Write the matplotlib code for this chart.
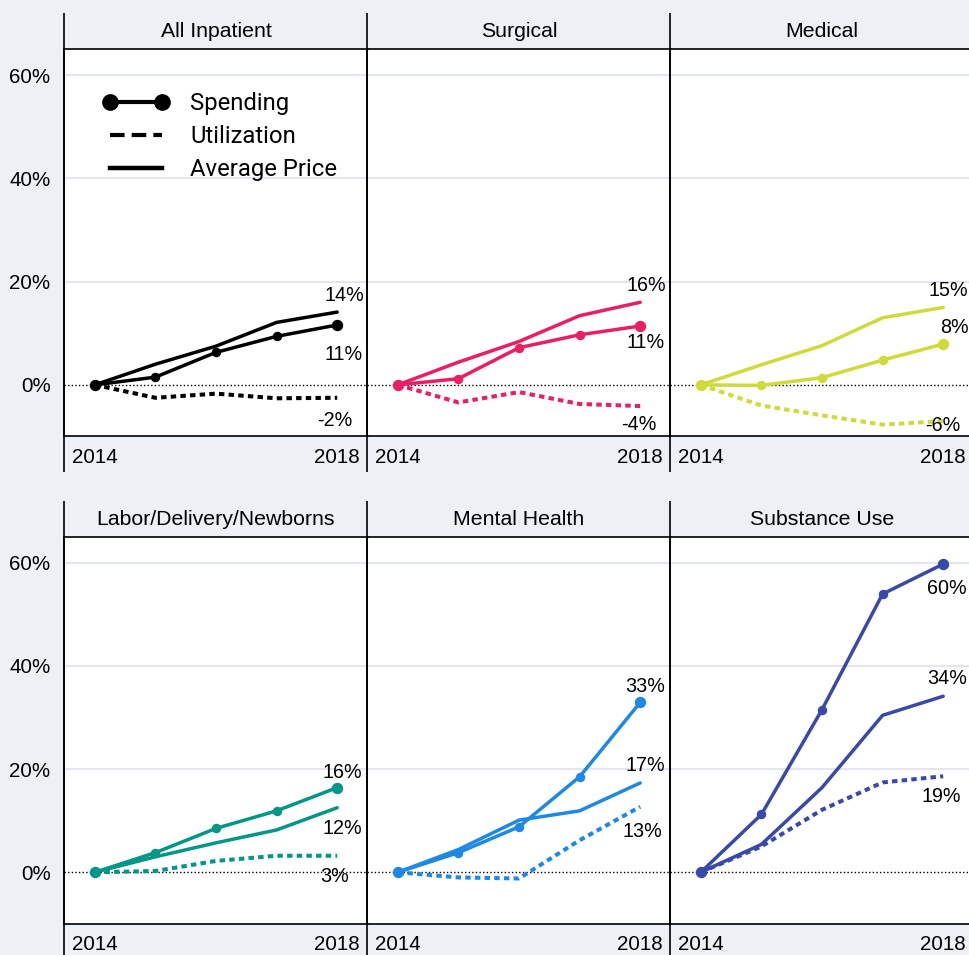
import matplotlib
matplotlib.use("Agg")
import matplotlib.pyplot as plt
from matplotlib.lines import Line2D
from matplotlib.font_manager import FontProperties

# ---------------- data ----------------
years = [2014, 2015, 2016, 2017, 2018]
panels = ["All Inpatient", "Surgical", "Medical",
          "Labor/Delivery/Newborns", "Mental Health", "Substance Use"]
colors = ["#000000", "#E91E63", "#CDDC39", "#009688", "#1E88E5", "#3949AB"]

spending = [
    [0, 1.5, 6.3, 9.4, 11.6],
    [0, 1.2, 7.2, 9.7, 11.4],
    [0, -0.1, 1.4, 4.8, 7.9],
    [0, 3.8, 8.5, 11.9, 16.4],
    [0, 3.8, 8.8, 18.5, 32.9],
    [0, 11.2, 31.5, 53.9, 59.7],
]
utilization = [
    [0, -2.5, -1.7, -2.6, -2.5],
    [0, -3.4, -1.4, -3.7, -4.1],
    [0, -4.0, -5.9, -7.7, -7.0],
    [0, 0.25, 2.2, 3.2, 3.2],
    [0, -1.0, -1.2, 6.2, 12.7],
    [0, 5.0, 12.1, 17.4, 18.6],
]
avg_price = [
    [0, 4.0, 7.5, 12.1, 14.1],
    [0, 4.4, 8.4, 13.4, 16.0],
    [0, 3.9, 7.6, 13.0, 15.0],
    [0, 3.0, 5.7, 8.2, 12.5],
    [0, 4.4, 10.1, 11.9, 17.3],
    [0, 5.4, 16.4, 30.4, 34.1],
]
# end labels (spending, utilization, avg price)
end_labels = [
    ["11%", "-2%", "14%"],
    ["11%", "-4%", "16%"],
    ["8%", "-6%", "15%"],
    ["16%", "3%", "12%"],
    ["33%", "13%", "17%"],
    ["60%", "19%", "34%"],
]
# label offsets in pixels (dx, dy of visual centre) : spending, utilization, price
label_offsets = [
    [(6, -28), (-2, -21), (7, 18)],
    [(5.5, -15), (-1, -17), (6.5, 18)],
    [(11, 18), (0, -3), (5, 18)],
    [(5.5, 17), (-3, -19), (5.5, -19)],
    [(5, 17), (2.5, -23), (5, 18.5)],
    [(3.5, -23), (-1.5, -18.5), (3.5, 19)],
]
yticks = [0, 20, 40, 60]
ytick_labels = ["0%", "20%", "40%", "60%"]
xticks = [2014, 2018]
xtick_labels = ["2014", "2018"]

# ---------------- style ----------------
BG = "#edf0f4"
GRID = "#e3e6ec"
W, H = 970, 955
DPI = 100
plt.rcParams["font.family"] = ["Liberation Sans", "DejaVu Sans"]

fig = plt.figure(figsize=(W / DPI, H / DPI), dpi=DPI, facecolor=BG)

col_left = [64.5, 367.5, 670.5]
col_w = 303.0
row_top = [49.3, 536.7]
row_h = 387.2
px2pt = 72.0 / DPI

for i, name in enumerate(panels):
    r, c = divmod(i, 3)
    l = col_left[c] / W
    b = 1 - (row_top[r] + row_h) / H
    ax = fig.add_axes([l, b, col_w / W, row_h / H])
    ax.set_facecolor("white")
    ax.set_xlim(2013.5, 2018.5)
    ax.set_ylim(-10, 65)
    col = colors[i]

    for yv in yticks[1:]:
        ax.axhline(yv, color=GRID, lw=1.4, zorder=0)
    ax.axhline(0, color="black", lw=1.0, ls=(0, (1, 1.6)), zorder=1)

    ax.plot(years, utilization[i], color=col, lw=2.9, ls=(0, (1.35, 1.05)),
            dash_capstyle="butt", zorder=3)
    ax.plot(years, avg_price[i], color=col, lw=2.5, solid_capstyle="round",
            solid_joinstyle="round", zorder=3)
    ax.plot(years, spending[i], color=col, lw=2.5, marker="o", ms=5.8,
            markevery=[1, 2, 3], solid_capstyle="round", solid_joinstyle="round", zorder=4)
    ax.plot([years[0], years[-1]], [spending[i][0], spending[i][-1]], ls="none",
            marker="o", ms=7.2, color=col, zorder=4)

    series_end = [spending[i][-1], utilization[i][-1], avg_price[i][-1]]
    for k in range(3):
        dx, dy = label_offsets[i][k]
        ax.annotate(end_labels[i][k], xy=(years[-1], series_end[k]),
                    xytext=(dx * px2pt, (dy - 7) * px2pt), textcoords="offset points",
                    ha="center", va="baseline", fontsize=14.2, color="black", zorder=5)

    # spines / strip
    for s in ["top", "bottom", "left"]:
        ax.spines[s].set_color("black")
        ax.spines[s].set_linewidth(1.2)
    ax.spines["right"].set_visible(False)
    ext = 36.0 / row_h
    ax.plot([0, 0], [-ext, 1 + ext], transform=ax.transAxes, color="black",
            lw=1.2, clip_on=False, zorder=6, solid_capstyle="butt")
    ax.text(0.5, 1 + 12.0 / row_h, name, transform=ax.transAxes, ha="center",
            va="baseline", fontsize=15.3, color="black")

    ax.set_xticks(xticks)
    ax.set_xticklabels(xtick_labels, fontsize=14.8)
    ax.tick_params(axis="x", length=0, pad=8.0)
    ax.set_yticks(yticks)
    if c == 0:
        ax.set_yticklabels(ytick_labels, fontsize=14.8)
        ax.tick_params(axis="y", length=0, pad=10)
    else:
        ax.set_yticklabels([])
        ax.tick_params(axis="y", length=0)

    if i == 0:
        handles = [
            Line2D([], [], color="black", lw=3, marker="o", ms=11),
            Line2D([], [], color="black", lw=3, ls=(0, (3.5, 1.7)), dash_capstyle="butt"),
            Line2D([], [], color="black", lw=3.2),
        ]
        ax.legend(handles, ["Spending", "Utilization", "Average Price"],
                  loc="upper left", bbox_to_anchor=(38.5 / col_w, 0.89),
                  frameon=False, prop=FontProperties(family="Roboto", size=17.2),
                  numpoints=2, handlelength=2.75, handletextpad=0.9,
                  labelspacing=0.42, borderaxespad=0, borderpad=0)

fig.savefig("out.png", dpi=DPI, facecolor=BG)
